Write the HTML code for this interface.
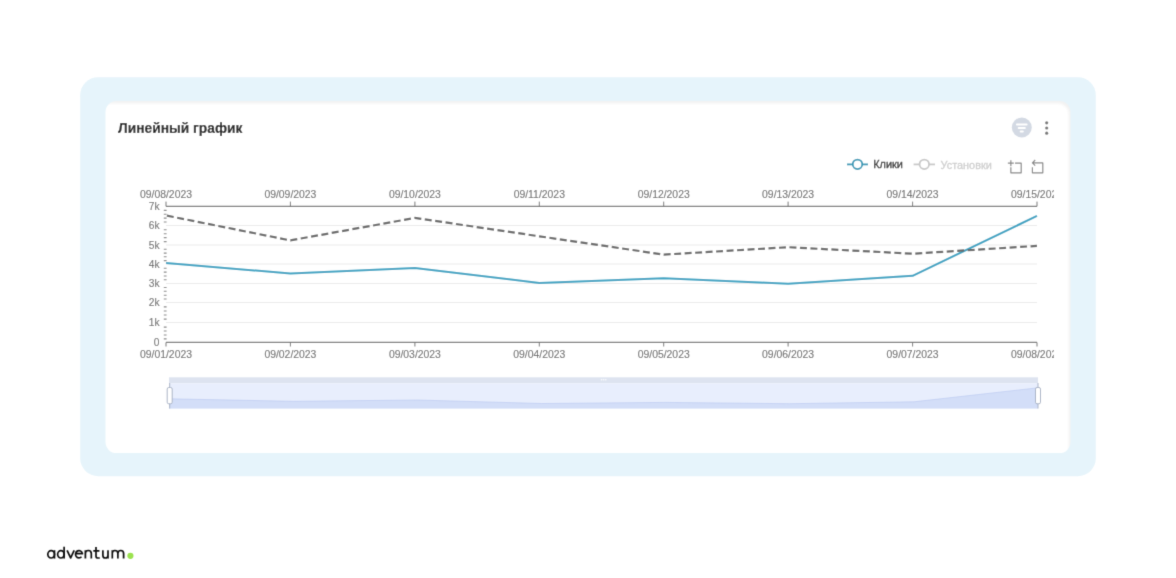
<!DOCTYPE html>
<html>
<head>
<meta charset="utf-8">
<style>
html,body{margin:0;padding:0;width:1176px;height:578px;overflow:hidden;background:#fff;}
body{position:relative;font-family:"Liberation Sans",sans-serif;}
.wrap{position:absolute;left:0;top:0;width:1176px;height:578px;filter:url(#soft);}
svg{position:absolute;left:0;top:0;}
</style>
</head>
<body>
<svg width="0" height="0" style="position:absolute"><defs><filter id="soft" x="0" y="0" width="1176" height="578" filterUnits="userSpaceOnUse"><feConvolveMatrix order="3" kernelMatrix="0.0144 0.0912 0.0144 0.0912 0.5776 0.0912 0.0144 0.0912 0.0144" divisor="1" edgeMode="duplicate"/></filter></defs></svg>
<div class="wrap">
<svg width="1176" height="578" viewBox="0 0 1176 578" font-family="Liberation Sans, sans-serif">
  <defs>
    <clipPath id="clip"><rect x="105" y="101" width="949" height="352"/></clipPath>
  </defs>
  <rect x="80.2" y="77.2" width="1015.6" height="399" rx="18" fill="#e6f4fb"/>
  <clipPath id="cardclip"><rect x="105.5" y="101.1" width="965" height="352" rx="11"/></clipPath>
  <filter id="shblur" x="-5%" y="-5%" width="110%" height="110%"><feGaussianBlur stdDeviation="1"/></filter>
  <rect x="105.5" y="101.1" width="965" height="352" rx="11" fill="#fff"/>
  <g clip-path="url(#cardclip)">
    <path fill="#000" fill-opacity="0.05" fill-rule="evenodd" filter="url(#shblur)" d="M90 85H1085V470H90Z M90 103.4H1057.7A11 11 0 0 1 1068.7 114.4V470H90Z"/>
  </g>
  <!-- title -->
  <text x="118" y="133.4" font-size="13.8" font-weight="bold" fill="#222" stroke="#222" stroke-width="0.15">Линейный график</text>
  <!-- filter icon -->
  <circle cx="1021.8" cy="127.5" r="10" fill="#d3d9e3"/>
  <g stroke="#fff" stroke-width="1.8" stroke-linecap="round">
    <line x1="1016.9" y1="124.5" x2="1026.7" y2="124.5"/>
    <line x1="1018.6" y1="128" x2="1024.9" y2="128"/>
    <line x1="1020.6" y1="131.5" x2="1022.9" y2="131.5"/>
  </g>
  <!-- kebab -->
  <g fill="#777">
    <circle cx="1046.7" cy="122.8" r="1.6"/>
    <circle cx="1046.7" cy="128" r="1.6"/>
    <circle cx="1046.7" cy="133.2" r="1.6"/>
  </g>
  <!-- legend -->
  <g fill="none" stroke-width="1.8">
    <line x1="847" y1="164.4" x2="868" y2="164.4" stroke="#3399b6"/>
    <circle cx="857.5" cy="164.3" r="4.75" fill="#fff" stroke="#3399b6"/>
    <line x1="913.6" y1="164.4" x2="935" y2="164.4" stroke="#c8c8c8"/>
    <circle cx="924.3" cy="164.3" r="4.75" fill="#fff" stroke="#c8c8c8"/>
  </g>
  <text x="873.2" y="168.4" font-size="10.9" fill="#333" stroke="#333" stroke-width="0.3">Клики</text>
  <text x="940.5" y="168.5" font-size="10.9" fill="#cfcfcf" stroke="#cfcfcf" stroke-width="0.3">Установки</text>
  <!-- toolbox icons -->
  <g fill="none" stroke="#888" stroke-width="1.2" stroke-linejoin="round">
    <path d="M1007.85 163.2H1013.8 M1010.85 166.2V160.2 M1015 163.2H1021.2V172.8H1010.85V167.3"/>
    <path d="M1035.2 160L1032.4 162.9L1035.2 165.7 M1032.6 162.9H1042.8V172.8H1032.4V167.2"/>
  </g>
  <g clip-path="url(#clip)">
  <!-- grid -->
  <g stroke="#ebebeb" stroke-width="1">
    <line x1="166" y1="225.5" x2="1037" y2="225.5"/>
    <line x1="166" y1="245" x2="1037" y2="245"/>
    <line x1="166" y1="264" x2="1037" y2="264"/>
    <line x1="166" y1="283.5" x2="1037" y2="283.5"/>
    <line x1="166" y1="302.5" x2="1037" y2="302.5"/>
    <line x1="166" y1="322.5" x2="1037" y2="322.5"/>
  </g>
  <!-- axes -->
  <g stroke="#747474" fill="none">
    <line x1="166" y1="206.4" x2="1037" y2="206.4" stroke-width="1.3"/>
    <line x1="166" y1="342.4" x2="1037" y2="342.4" stroke-width="1.4"/>
  </g>
  <g stroke="#747474" stroke-width="1">
    <path d="M166 201.6V206.4 M290.4 201.6V206.4 M414.9 201.6V206.4 M539.3 201.6V206.4 M663.7 201.6V206.4 M788.1 201.6V206.4 M912.6 201.6V206.4 M1037 201.6V206.4"/>
    <path d="M166 342.4V346.5 M290.4 342.4V346.5 M414.9 342.4V346.5 M539.3 342.4V346.5 M663.7 342.4V346.5 M788.1 342.4V346.5 M912.6 342.4V346.5 M1037 342.4V346.5"/>
  </g>
  <!-- y minor ticks -->
  <path stroke="#858585" stroke-width="1.1" d="M163.8 338.9H166.6 M163.8 335.0H166.6 M163.8 331.0H166.6 M163.8 327.1H166.6 M163.8 319.1H166.6 M163.8 315.0H166.6 M163.8 311.0H166.6 M163.8 306.9H166.6 M163.8 299.0H166.6 M163.8 295.2H166.6 M163.8 291.3H166.6 M163.8 287.5H166.6 M163.8 279.8H166.6 M163.8 276.0H166.6 M163.8 272.1H166.6 M163.8 268.3H166.6 M163.8 260.6H166.6 M163.8 256.8H166.6 M163.8 253.1H166.6 M163.8 249.3H166.6 M163.8 241.6H166.6 M163.8 237.6H166.6 M163.8 233.7H166.6 M163.8 229.7H166.6 M163.8 222.0H166.6 M163.8 218.1H166.6 M163.8 214.3H166.6 M163.8 210.4H166.6"/>
  <!-- x labels -->
  <g font-size="10.4" fill="#6e6e6e" stroke="#6e6e6e" stroke-width="0.12" text-anchor="middle">
    <text x="166" y="197.7">09/08/2023</text>
    <text x="290.4" y="197.7">09/09/2023</text>
    <text x="414.9" y="197.7">09/10/2023</text>
    <text x="539.3" y="197.7">09/11/2023</text>
    <text x="663.7" y="197.7">09/12/2023</text>
    <text x="788.1" y="197.7">09/13/2023</text>
    <text x="912.6" y="197.7">09/14/2023</text>
    <text x="1037" y="197.7">09/15/2023</text>
    <text x="166" y="357.8">09/01/2023</text>
    <text x="290.4" y="357.8">09/02/2023</text>
    <text x="414.9" y="357.8">09/03/2023</text>
    <text x="539.3" y="357.8">09/04/2023</text>
    <text x="663.7" y="357.8">09/05/2023</text>
    <text x="788.1" y="357.8">09/06/2023</text>
    <text x="912.6" y="357.8">09/07/2023</text>
    <text x="1037" y="357.8">09/08/2023</text>
  </g>
  <!-- y labels -->
  <g font-size="10.2" fill="#6e6e6e" stroke="#6e6e6e" stroke-width="0.12" text-anchor="end">
    <text x="159.5" y="209.5">7k</text>
    <text x="159.5" y="229">6k</text>
    <text x="159.5" y="248.5">5k</text>
    <text x="159.5" y="267.8">4k</text>
    <text x="159.5" y="287">3k</text>
    <text x="159.5" y="306.2">2k</text>
    <text x="159.5" y="326">1k</text>
    <text x="159.5" y="345.8">0</text>
  </g>
  <!-- series -->
  <polyline fill="none" stroke="#36a2c2" stroke-width="2.05" stroke-linejoin="round" points="166.0,263.0 290.4,273.5 414.9,267.9 539.3,282.9 663.7,278.2 788.1,283.8 912.6,275.8 1037.0,215.9"/>
  <polyline fill="none" stroke="#666" stroke-width="2.2" stroke-dasharray="7 3.5" stroke-dashoffset="9.65" points="166.0,215.5 290.4,240.4 414.9,217.9 539.3,236.3 663.7,254.6 788.1,247.2 912.6,253.7 1037.0,245.9"/>
  </g>
  <!-- datazoom slider -->
  <rect x="169" y="377.3" width="869" height="6" fill="#dde3f0"/>
  <rect x="169" y="383.3" width="869" height="25.2" fill="#e8eefd"/>
  <polygon fill="#d3def8" points="169,408.5 169.0,398.8 293.1,401.3 417.3,400.0 541.4,403.5 665.6,402.4 789.7,403.7 913.9,401.8 1038.0,387.8 1038,408.5"/>
  <polyline fill="none" stroke="#b8c8f0" stroke-width="0.6" points="169.0,398.8 293.1,401.3 417.3,400.0 541.4,403.5 665.6,402.4 789.7,403.7 913.9,401.8 1038.0,387.8"/>
  <g fill="#fff" opacity="0.9">
    <circle cx="601.6" cy="379.8" r="0.8"/><circle cx="603.7" cy="379.8" r="0.8"/><circle cx="605.8" cy="379.8" r="0.8"/>
  </g>
  <g stroke="#a9b3c6" stroke-width="1">
    <line x1="169.7" y1="383" x2="169.7" y2="408.5"/>
    <line x1="1038" y1="383" x2="1038" y2="408.5"/>
    <rect x="167.2" y="387.5" width="5" height="16.3" rx="1.6" fill="#fff"/>
    <rect x="1035.5" y="387.5" width="5" height="16.3" rx="1.6" fill="#fff"/>
  </g>
  <!-- logo -->
  <g fill="none" stroke="#0e0e0e" stroke-width="1.7" stroke-linecap="butt" stroke-linejoin="round">
    <ellipse cx="51.15" cy="554.35" rx="3.35" ry="3.65"/>
    <path d="M54.45 550.2V558.6"/>
    <ellipse cx="60.9" cy="554.35" rx="3.25" ry="3.65"/>
    <path d="M64.1 546.8V558.6"/>
    <path d="M67.1 550.4L70.65 557.9L74.2 550.4"/>
    <path d="M75.95 553.7H82.4A3.45 3.65 0 1 0 81.5 556.8"/>
    <path d="M85.4 550.3V558.6 M85.4 553.4C85.4 551.3 86.9 550.5 88.35 550.5C90.1 550.5 91.3 551.6 91.3 553.6V558.6"/>
    <path d="M96 546.9V556.2C96 557.6 96.8 558 98 558H99.8 M93.3 550.9H99.4"/>
    <path d="M102.9 550.3V555.4C102.9 557.3 104 558 105.4 558C106.9 558 108 557.1 108 555.2V550.3 M108 550.3V558.6"/>
    <path d="M112.3 550.3V558.6 M112.3 553.3C112.3 551.3 113.4 550.5 114.9 550.5C116.6 550.5 117.9 551.5 117.9 553.5V558.6 M117.9 553.5C117.9 551.5 119.2 550.5 120.8 550.5C122.5 550.5 123.6 551.5 123.6 553.5V558.6"/>
  </g>
  <circle cx="130.4" cy="555.8" r="3.1" fill="#9be24f"/>
</svg>
</div>
</body>
</html>
